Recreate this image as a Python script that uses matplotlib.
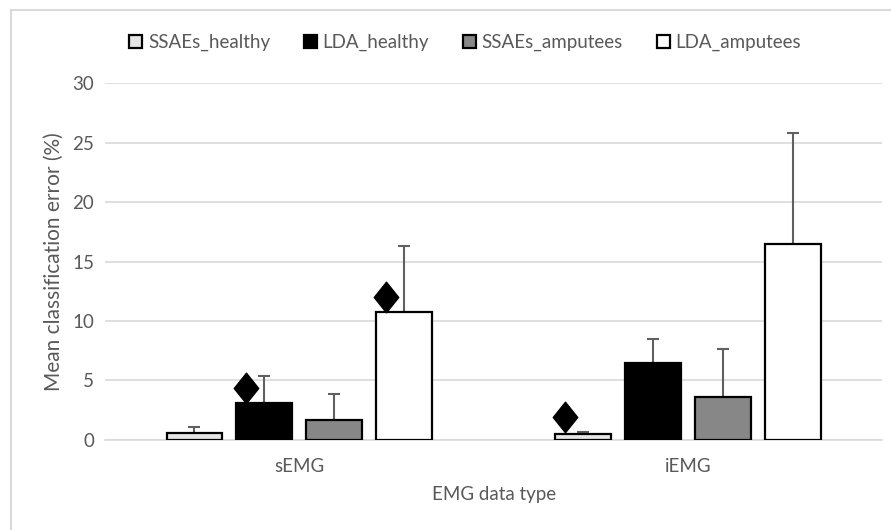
import numpy as np
import matplotlib.pyplot as plt
from matplotlib.lines import Line2D
from matplotlib.path import Path

# Data
categories = ["sEMG", "iEMG"]
series = ["SSAEs_healthy", "LDA_healthy", "SSAEs_amputees", "LDA_amputees"]
means = {
    "SSAEs_healthy": [0.6, 0.5],
    "LDA_healthy": [3.1, 6.45],
    "SSAEs_amputees": [1.7, 3.65],
    "LDA_amputees": [10.75, 16.5],
}
errors = {
    "SSAEs_healthy": [0.5, 0.2],
    "LDA_healthy": [2.3, 2.05],
    "SSAEs_amputees": [2.2, 4.0],
    "LDA_amputees": [5.55, 9.35],
}
# significance markers (series, category index, y value)
markers = [("LDA_healthy", 0, 4.4), ("LDA_amputees", 0, 12.0), ("SSAEs_healthy", 1, 1.9)]

colors = ["#e6e6e6", "#000000", "#878787", "#ffffff"]

plt.rcParams['font.family'] = ['Lato', 'DejaVu Sans']

fig = plt.figure(figsize=(8.91, 5.30), dpi=100)
ax = fig.add_axes([0.118, 0.17, 0.872, 0.673])

x = np.arange(len(categories))
width = 0.144
step = 0.18
diamond = Path([(0, 1), (0.8, 0), (0, -1), (-0.8, 0), (0, 1)],
               [Path.MOVETO, Path.LINETO, Path.LINETO, Path.LINETO, Path.CLOSEPOLY])

for i, name in enumerate(series):
    pos = x + (i - 1.5) * step
    ax.bar(pos, means[name], width, color=colors[i], edgecolor="black", linewidth=1.6,
           label=name, zorder=3)
    eb = ax.errorbar(pos, means[name], yerr=[np.zeros(len(x)), errors[name]], fmt="none",
                     ecolor="#606060", elinewidth=1.5, capsize=4, capthick=1.5, zorder=2.5)
    eb[1][0].set_visible(False)  # hide the lower caps

for name, ci, yv in markers:
    si = series.index(name)
    ax.plot(x[ci] + (si - 1.5) * step - 0.047, yv, marker=diamond, markersize=22,
            color="black", linestyle="none", zorder=5)

ax.set_xlim(-0.5, 1.5)
ax.set_ylim(0, 30)
ax.set_yticks(np.arange(0, 31, 5))
ax.set_xticks(x)
ax.set_xticklabels(categories)
ax.yaxis.grid(True, color="#d9d9d9", linewidth=1.2, zorder=0)
ax.set_axisbelow(True)
for s in ["top", "right", "left"]:
    ax.spines[s].set_visible(False)
ax.spines["bottom"].set_color("#d9d9d9")
ax.spines["bottom"].set_linewidth(1.2)
ax.tick_params(axis="both", length=0, labelsize=13.5, colors="#595959", pad=8)
ax.tick_params(axis="x", pad=13)
ax.set_ylabel("Mean classification error (%)", fontsize=15, color="#595959", labelpad=6)
ax.set_xlabel("EMG data type", fontsize=13.5, color="#595959", labelpad=8)

handles = [plt.Rectangle((0, 0), 1, 1, facecolor=c, edgecolor="black", linewidth=1.6) for c in colors]
leg = fig.legend(handles, series, loc="center", bbox_to_anchor=(0.522, 0.92), ncol=4,
                 frameon=False, fontsize=13.5, handlelength=0.7, handleheight=0.7,
                 handletextpad=0.3, columnspacing=1.8)
for t in leg.get_texts():
    t.set_color("#595959")

# figure border (left and top)
fig.add_artist(Line2D([0.0123, 0.0123], [0, 0.981], color="#d9d9d9", linewidth=1.5))
fig.add_artist(Line2D([0.0123, 1.0], [0.981, 0.981], color="#d9d9d9", linewidth=1.5))

fig.savefig("out.png", dpi=100)
